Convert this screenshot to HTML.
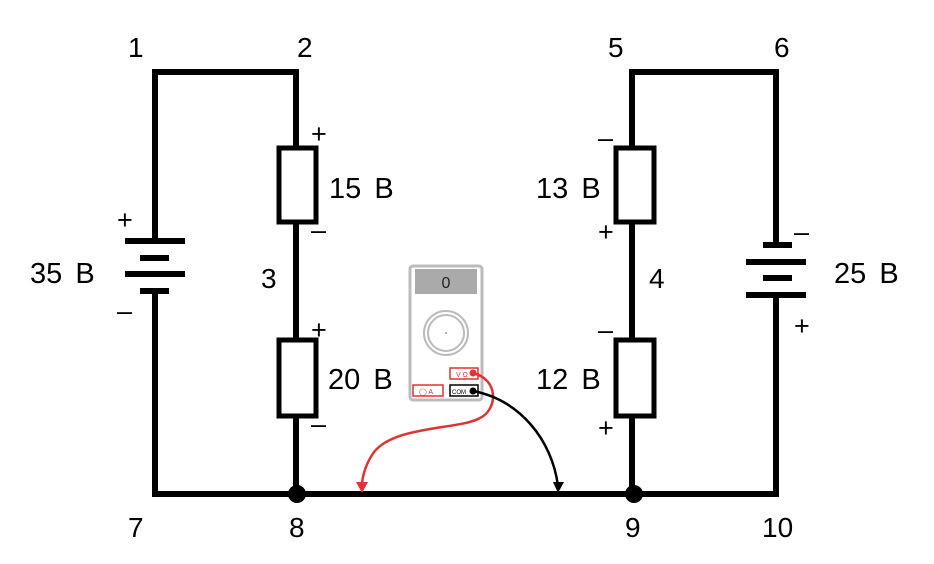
<!DOCTYPE html>
<html><head><style>
body{margin:0;background:#fff;}
svg{display:block;font-family:"Liberation Sans",sans-serif;}
</style></head><body>
<svg width="934" height="564" viewBox="0 0 934 564">
<g stroke="#000" stroke-width="6" fill="none">
<polyline points="155,241 155,72 296,72 296,148"/>
<line x1="296" y1="222" x2="296" y2="340"/>
<line x1="296" y1="416" x2="296" y2="494"/>
<line x1="155" y1="291" x2="155" y2="494"/>
<line x1="152" y1="494" x2="779" y2="494"/>
<polyline points="632,148 632,72 776,72 776,245"/>
<line x1="632" y1="222" x2="632" y2="340"/>
<line x1="632" y1="416" x2="632" y2="494"/>
<line x1="776" y1="295" x2="776" y2="494"/>
</g>
<g stroke="#000" stroke-width="5" fill="#fff">
<rect x="279" y="148" width="37" height="74"/>
<rect x="279" y="340" width="37" height="76"/>
<rect x="616" y="148" width="38" height="74"/>
<rect x="616" y="340" width="38" height="76"/>
</g>
<g fill="#000">
<rect x="125" y="238" width="60" height="6"/>
<rect x="140" y="255" width="29" height="6"/>
<rect x="125" y="271" width="60" height="6"/>
<rect x="140" y="288" width="29" height="6"/>
<rect x="763" y="242" width="29" height="6"/>
<rect x="746" y="259" width="60" height="6"/>
<rect x="763" y="275" width="29" height="6"/>
<rect x="746" y="292" width="60" height="6"/>
<circle cx="297" cy="494" r="9"/>
<circle cx="634" cy="494" r="9"/>
</g>
<g font-size="28" fill="#000">
<text x="128" y="57">1</text><text x="297" y="57">2</text>
<text x="608" y="57">5</text><text x="774" y="57">6</text>
<text x="128" y="537">7</text><text x="289" y="537">8</text>
<text x="625" y="537">9</text><text x="762" y="537">10</text>
<text x="261" y="288">3</text><text x="649" y="288">4</text>
</g>
<g font-size="29" fill="#000" word-spacing="5">
<text x="329" y="198">15 B</text><text x="328" y="389">20 B</text>
<text x="536" y="198">13 B</text><text x="536" y="389">12 B</text>
<text x="30" y="283">35 B</text><text x="834" y="283">25 B</text>
</g>
<g font-size="27" fill="#000">
<text x="117" y="229">+</text><text x="117" y="320">–</text>
<text x="311" y="143">+</text><text x="311" y="239">–</text>
<text x="311" y="339">+</text><text x="311" y="433">–</text>
<text x="598" y="147">–</text><text x="598" y="241">+</text>
<text x="598" y="339">–</text><text x="598" y="437">+</text>
<text x="794" y="241">–</text><text x="794" y="335">+</text>
</g>
<rect x="410" y="266" width="72" height="134" rx="3" fill="#fff" stroke="#bbb" stroke-width="3"/>
<rect x="415" y="269" width="62" height="25" fill="#aaa"/>
<text x="446" y="288" font-size="16" text-anchor="middle" fill="#222">0</text>
<circle cx="446" cy="333" r="22" fill="none" stroke="#bbb" stroke-width="2"/>
<circle cx="446" cy="333" r="18" fill="none" stroke="#bbb" stroke-width="2"/>
<circle cx="446" cy="333" r="1" fill="#999"/>
<rect x="450" y="368" width="28" height="11" fill="#fff" stroke="#d33" stroke-width="1.5"/>
<text x="456" y="377" font-size="7" fill="#d33">V Ω</text>
<rect x="413" y="385" width="30" height="11" fill="#fff" stroke="#d33" stroke-width="1.5"/>
<text x="419" y="394" font-size="7" fill="#d33">◯ A</text>
<rect x="450" y="385" width="28" height="11" fill="#fff" stroke="#000" stroke-width="1.5"/>
<text x="452" y="394" font-size="6" fill="#000">COM</text>
<path d="M473,373 C500,380 497,410 480,418 C460,430 390,425 372,455 C365,466 362,478 362,486" fill="none" stroke="#d33" stroke-width="2.5"/>
<polygon points="356,482 368,482 362,493" fill="#d33"/>
<circle cx="473" cy="373" r="3.5" fill="#d33"/>
<path d="M473,391 C520,400 552,440 558,486" fill="none" stroke="#000" stroke-width="2.5"/>
<polygon points="553,482 564,482 558,493" fill="#000"/>
<circle cx="473" cy="391" r="3.5" fill="#000"/>
</svg>
</body></html>
